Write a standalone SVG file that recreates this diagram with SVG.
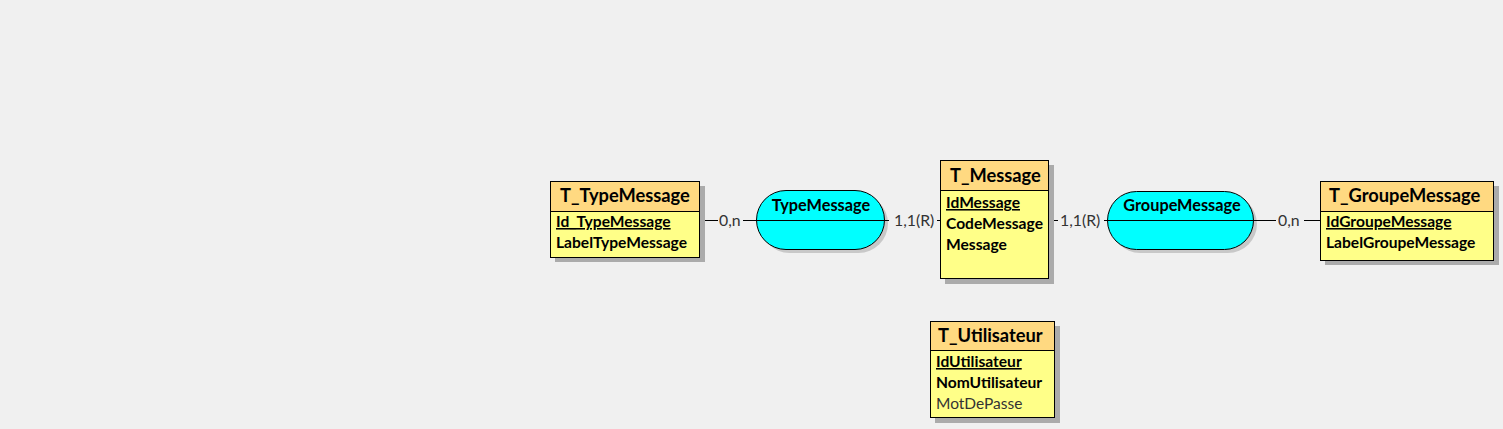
<svg xmlns="http://www.w3.org/2000/svg" width="1503" height="429" viewBox="0 0 1503 429">
<style>
.bg{fill:#F0F0F0}
.shadow{fill:#ABABAB}
.hdr{fill:#FFD981;stroke:#000;stroke-width:1}
.body{fill:#FFFF88;stroke:#000;stroke-width:1}
.title{font-family:Lato,"Liberation Sans",sans-serif;font-weight:bold;font-size:18.3px;fill:#000}
.attr{font-family:Lato,"Liberation Sans",sans-serif;font-weight:bold;font-size:15.6px;fill:#000}
.plain{font-family:Lato,"Liberation Sans",sans-serif;font-size:15.5px;fill:#333}
.key{text-decoration:underline}
.assoc{fill:#00FFFF;stroke:#000;stroke-width:1}
.ashadow{fill:#C8C8C8}
.aname{font-family:Lato,"Liberation Sans",sans-serif;font-weight:bold;font-size:16.3px;fill:#000;text-anchor:middle}
.card{font-family:Lato,"Liberation Sans",sans-serif;font-size:15.8px;fill:#333}
.conn{stroke:#000;stroke-width:1;fill:none}
</style>
<rect class="bg" x="0" y="0" width="1503" height="429"/>

<g id="assoc-TypeMessage">
<rect class="ashadow" x="760" y="194" width="128" height="59" rx="29.5"/>
<rect class="assoc" x="756.5" y="190.5" width="128" height="59" rx="29.5"/>
<text class="aname" x="821" y="211">TypeMessage</text>
</g>
<g id="assoc-GroupeMessage">
<rect class="ashadow" x="1111" y="195" width="146" height="58" rx="29"/>
<rect class="assoc" x="1107.5" y="191.5" width="146" height="58" rx="29"/>
<text class="aname" x="1182" y="211">GroupeMessage</text>
</g>

<g id="connectors">
<path class="conn" d="M700,220.5 H940"/>
<path class="conn" d="M1049,220.5 H1320"/>
<rect class="bg" x="718" y="211" width="25" height="18"/>
<text class="card" x="719" y="226">0,n</text>
<rect class="bg" x="889" y="211" width="48" height="18"/>
<text class="card" x="894" y="226">1,1(R)</text>
<rect class="bg" x="1058" y="211" width="46" height="18"/>
<text class="card" x="1060" y="226">1,1(R)</text>
<rect class="bg" x="1276" y="211" width="28" height="18"/>
<text class="card" x="1278" y="226">0,n</text>
</g>

<g id="T_TypeMessage">
<rect class="shadow" x="555" y="186" width="150" height="76"/>
<rect class="hdr" x="550.5" y="181.5" width="149" height="30"/>
<rect class="body" x="550.5" y="211.5" width="149" height="46"/>
<text class="title" x="560" y="202">T_TypeMessage</text>
<text class="attr key" x="556" y="227">Id_TypeMessage</text>
<text class="attr" x="556" y="248">LabelTypeMessage</text>
</g>

<g id="T_Message">
<rect class="shadow" x="945" y="165" width="109" height="119"/>
<rect class="hdr" x="940.5" y="160.5" width="108" height="30"/>
<rect class="body" x="940.5" y="190.5" width="108" height="88"/>
<text class="title" x="950" y="182">T_Message</text>
<text class="attr key" x="946" y="208">IdMessage</text>
<text class="attr" x="946" y="229">CodeMessage</text>
<text class="attr" x="946" y="250">Message</text>
</g>

<g id="T_GroupeMessage">
<rect class="shadow" x="1325" y="186" width="174" height="79"/>
<rect class="hdr" x="1320.5" y="181.5" width="173" height="30"/>
<rect class="body" x="1320.5" y="211.5" width="173" height="49"/>
<text class="title" x="1329" y="202">T_GroupeMessage</text>
<text class="attr key" x="1326" y="227">IdGroupeMessage</text>
<text class="attr" x="1326" y="248">LabelGroupeMessage</text>
</g>

<g id="T_Utilisateur">
<rect class="shadow" x="935" y="326" width="125" height="97"/>
<rect class="hdr" x="930.5" y="321.5" width="124" height="29"/>
<rect class="body" x="930.5" y="350.5" width="124" height="67"/>
<text class="title" x="938" y="342">T_Utilisateur</text>
<text class="attr key" x="936" y="367">IdUtilisateur</text>
<text class="attr" x="936" y="388">NomUtilisateur</text>
<text class="plain" x="936" y="409">MotDePasse</text>
</g>
</svg>
